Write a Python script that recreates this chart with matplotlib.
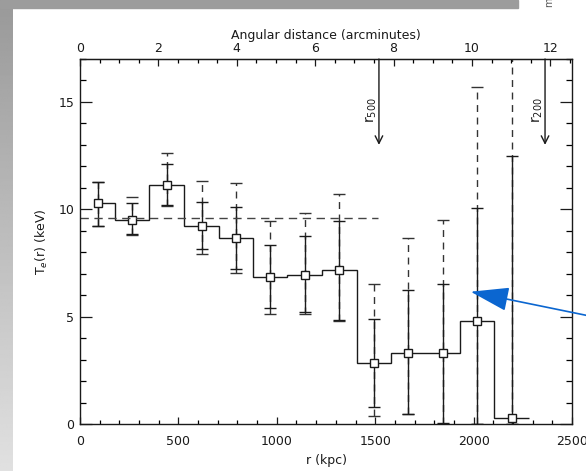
import numpy as np
import matplotlib
matplotlib.use('Agg')
import matplotlib.pyplot as plt
from matplotlib.patches import Rectangle

plt.rcParams['font.family'] = ['DejaVu Sans']
plt.rcParams['font.size'] = 9

# temperature profile (kpc, keV)
r_kpc = [93, 266, 440, 618, 791, 965, 1143, 1318, 1494, 1668, 1843, 2019, 2193]
T_keV = [10.27, 9.49, 11.15, 9.22, 8.68, 6.85, 6.96, 7.16, 2.85, 3.33, 3.29, 4.82, 0.29]
# statistical errors (solid)
stat_lo = [9.21, 8.85, 10.20, 8.14, 7.20, 5.38, 5.22, 4.85, 0.78, 0.47, 0.05, 0.0, 0.0]
stat_hi = [11.27, 10.30, 12.09, 10.34, 10.10, 8.36, 8.74, 9.46, 4.87, 6.26, 6.54, 10.06, 12.48]
# total errors (dashed)
tot_lo = [9.21, 8.80, 10.15, 7.94, 7.01, 5.12, 5.12, 4.80, 0.37, 0.47, 0.0, 0.0, 0.0]
tot_hi = [11.27, 10.55, 12.64, 11.32, 11.23, 9.44, 9.83, 10.73, 6.54, 8.64, 9.52, 15.69, 20.0]

T_mean = 9.6
r_mean_end = 1515
r500 = 1519
r200 = 2363
kpc_per_arcmin = 199.2

fig = plt.figure(figsize=(5.86, 4.71), dpi=100)

# grey slide background strips
bg = fig.add_axes([0, 0, 13 / 586, 1])
grad = np.linspace(0.60, 0.88, 256).reshape(-1, 1)
bg.imshow(grad, aspect='auto', cmap='gray', vmin=0, vmax=1, origin='upper')
bg.axis('off')
fig.patches.append(Rectangle((0, 1 - 8 / 471), 518 / 586, 8 / 471,
                             transform=fig.transFigure, color='#9c9c9c', zorder=0))
fig.text(549 / 586, 0.995, 'm', rotation=90, fontsize=7, color='#555555',
         ha='center', va='center')

ax = fig.add_axes([80 / 586, 47 / 471, 492 / 586, 365 / 471])
ink = '#1a1a1a'

r = np.array(r_kpc)
T = np.array(T_keV)

# histogram-style step
edges = np.concatenate([[r[0]], (r[1:] + r[:-1]) / 2, [r[-1] + (r[-1] - r[-2]) / 2]])
ax.stairs(T, edges, baseline=None, color=ink, lw=1.0)

# total errors dashed
eb = ax.errorbar(r, T, yerr=[T - np.array(tot_lo), np.array(tot_hi) - T], fmt='none',
                 ecolor='#333333', elinewidth=1.0, capsize=4, capthick=1.0)
eb[2][0].set_linestyle((0, (5, 4)))
# statistical errors solid
ax.errorbar(r, T, yerr=[T - np.array(stat_lo), np.array(stat_hi) - T], fmt='none',
            ecolor=ink, elinewidth=1.0, capsize=4, capthick=1.0)
ax.plot(r, T, 's', ms=6, mfc='white', mec=ink, mew=1.0)

ax.plot([0, r_mean_end], [T_mean, T_mean], color='#444444', lw=1.0, ls=(0, (6, 4)))

# r500 / r200 markers
for rr, lab in [(r500, r'r$_{500}$'), (r200, r'r$_{200}$')]:
    ax.annotate('', xy=(rr, 13.0), xytext=(rr, 17.0),
                arrowprops=dict(arrowstyle='->,head_length=0.6,head_width=0.3',
                                color=ink, lw=1.0, shrinkA=0, shrinkB=0))
    ax.text(rr - 38, 14.6, lab, rotation=90, ha='center', va='center', fontsize=10, color=ink)

ax.set_xlim(0, 2500)
ax.set_ylim(0, 17)
ax.set_xticks([0, 500, 1000, 1500, 2000, 2500])
ax.set_xticks(np.arange(0, 2501, 100), minor=True)
ax.set_yticks([0, 5, 10, 15])
ax.set_yticks(np.arange(0, 17.1, 1), minor=True)
ax.tick_params(axis='x', which='major', direction='in', length=5, width=0.9, pad=8, colors=ink)
ax.tick_params(axis='x', which='minor', direction='in', length=3, width=0.9)
ax.tick_params(axis='y', which='major', direction='in', length=8.5, width=0.9, pad=4,
               right=True, colors=ink)
ax.tick_params(axis='y', which='minor', direction='in', length=4.3, width=0.9, right=True)
for s in ax.spines.values():
    s.set_color(ink)
    s.set_linewidth(1.0)
ax.set_xlabel('r (kpc)', labelpad=4, color=ink)
ax.set_ylabel(r'T$_e$(r) (keV)', labelpad=6, color=ink)

sec = ax.secondary_xaxis('top', functions=(lambda x: x / kpc_per_arcmin,
                                           lambda a: a * kpc_per_arcmin))
sec.set_xticks([0, 2, 4, 6, 8, 10, 12])
sec.set_xticks(np.arange(0, 12.6, 0.5), minor=True)
sec.tick_params(which='major', direction='in', length=5, width=0.9, pad=3, colors=ink)
sec.tick_params(which='minor', direction='in', length=3, width=0.9)
sec.set_xlabel('Angular distance (arcminutes)', labelpad=2, color=ink)

# blue pointer arrow
ax.annotate('', xy=(470.7, 179.3), xycoords='figure pixels',
            xytext=(592, 154.5), textcoords='figure pixels',
            arrowprops=dict(arrowstyle='-|>,head_length=2.4,head_width=0.75',
                            mutation_scale=10, color='#0b66d0', lw=1.2,
                            shrinkA=0, shrinkB=0),
            annotation_clip=False)

fig.savefig('out.png', dpi=100)
